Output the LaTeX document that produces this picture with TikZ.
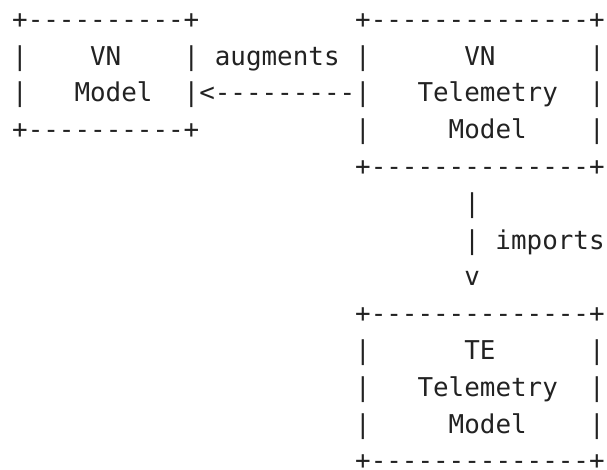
\documentclass[tikz,border=0pt]{standalone}
\usepackage{fontspec}
\setmonofont{DejaVu Sans Mono}
\definecolor{ink}{HTML}{222222}
\tikzset{
  seg/.style={anchor=base west, inner sep=0pt, outer sep=0pt, text=ink,
    font=\ttfamily\fontsize{25.9}{37}\selectfont}
}
% column / row to coordinates (1 unit = 1pt, origin bottom-left)
\newcommand{\seg}[4]{\node[seg] (#1) at ({12.2+#2*15.59},{470-(28.4+#3*36.8)}) {#4};}
\begin{document}
\begin{tikzpicture}[x=1pt,y=1pt]
\useasboundingbox (0,0) rectangle (607,470);
% row 0
\seg{vnTop}{0}{0}{+----------+}
\seg{vtTop}{22}{0}{+--------------+}
% row 1
\seg{vnL1}{0}{1}{|}
\seg{vnT1}{5}{1}{VN}
\seg{vnR1}{11}{1}{|}
\seg{aug}{13}{1}{augments}
\seg{vtL1}{22}{1}{|}
\seg{vtT1}{29}{1}{VN}
\seg{vtR1}{37}{1}{|}
% row 2
\seg{vnL2}{0}{2}{|}
\seg{vnT2}{4}{2}{Model}
\seg{arrowAug}{11}{2}{|<---------|}
\seg{vtT2}{26}{2}{Telemetry}
\seg{vtR2}{37}{2}{|}
% row 3
\seg{vnBot}{0}{3}{+----------+}
\seg{vtL3}{22}{3}{|}
\seg{vtT3}{28}{3}{Model}
\seg{vtR3}{37}{3}{|}
% row 4
\seg{vtBot}{22}{4}{+--------------+}
% rows 5-7 : imports connector
\seg{imp1}{29}{5}{|}
\seg{imp2}{29}{6}{|}
\seg{impLbl}{31}{6}{imports}
\seg{impHead}{29}{7}{v}
% row 8
\seg{teTop}{22}{8}{+--------------+}
% row 9
\seg{teL1}{22}{9}{|}
\seg{teT1}{29}{9}{TE}
\seg{teR1}{37}{9}{|}
% row 10
\seg{teL2}{22}{10}{|}
\seg{teT2}{26}{10}{Telemetry}
\seg{teR2}{37}{10}{|}
% row 11
\seg{teL3}{22}{11}{|}
\seg{teT3}{28}{11}{Model}
\seg{teR3}{37}{11}{|}
% row 12
\seg{teBot}{22}{12}{+--------------+}
\end{tikzpicture}
\end{document}
